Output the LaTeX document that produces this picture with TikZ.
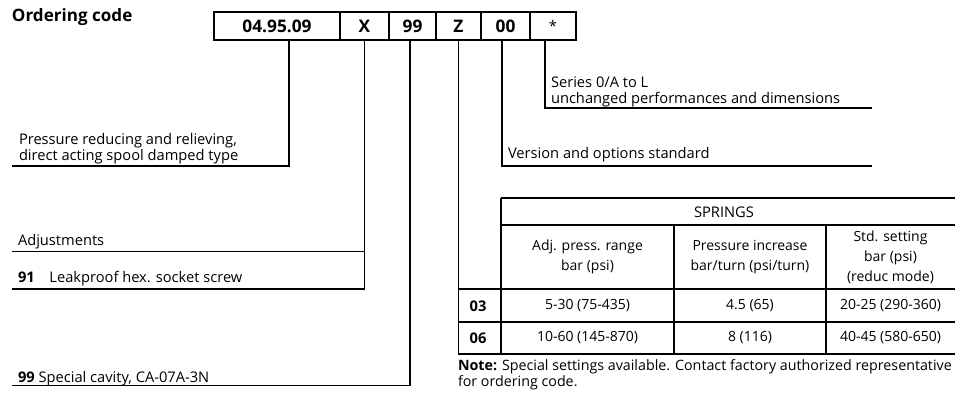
\documentclass[tikz,border=0pt]{standalone}
\usepackage{fontspec}
\setmainfont{Open Sans}
\usetikzlibrary{positioning}
\begin{document}
\begin{tikzpicture}[x=0.75pt,y=-0.75pt,every node/.style={font=\fontsize{11}{12.5}\selectfont,inner sep=0pt,outer sep=0pt},
field/.style={draw,line width=1.3pt,minimum height=21pt,font=\fontsize{13}{15}\selectfont\bfseries},
lead/.style={line width=0.9pt},
txt/.style={anchor=base west,align=left},
cell/.style={align=center,font=\fontsize{10.5}{15}\selectfont}]
\useasboundingbox (0,0) rectangle (964,402);
\node[anchor=base west,font=\fontsize{12.8}{14}\selectfont\bfseries] (title) at (12,22) {Ordering code};
\node[field,minimum width=94.5pt,anchor=north west] (f1) at (214,12) {04.95.09};
\node[field,minimum width=36.75pt,right=0pt of f1] (f2) {X};
\node[field,minimum width=35.25pt,right=0pt of f2] (f3) {99};
\node[field,minimum width=33.75pt,right=0pt of f3] (f4) {Z};
\node[field,minimum width=36.75pt,right=0pt of f4] (f5) {00};
\node[field,minimum width=34.5pt,right=0pt of f5,font=\fontsize{11}{15}\selectfont] (f6) {*};
\coordinate (e1) at (12,166);
\coordinate (e2) at (12,251.7);
\coordinate (e3) at (12,289);
\coordinate (e4) at (12,385.7);
\coordinate (e5) at (872,166);
\coordinate (e6) at (872,108);
\coordinate (bl) at (458,354);
\draw[lead] ([xshift=9pt]f1.south) |- (e1);
\draw[lead] (f2.south) |- (e3);
\draw[lead] (e2) -- (e2 -| f2.south);
\draw[lead] ([xshift=-1.9pt]f3.south) |- (e4);
\draw[lead] (f4.south) -- (f4.south |- bl);
\draw[lead] ([xshift=-2.6pt]f5.south) |- (e5);
\draw[lead] ([xshift=-6pt]f6.south) |- (e6);
\node[txt] (pr) at (19,161) {Pressure reducing and relieving,\\direct acting spool damped type};
\node[txt] (adj) at (18,246) {Adjustments};
\node[txt] (lk) at (18,283) {\textbf{91}\hspace{11pt}Leakproof hex. socket screw};
\node[txt] (sc) at (18,383) {\textbf{99} Special cavity, CA-07A-3N};
\node[txt] (ser) at (551,104) {Series 0/A to L\\unchanged performances and dimensions};
\node[txt] (ver) at (508,159) {Version and options standard};
\draw[lead] (501,198) -- (955,198) (501,225) -- (955,225) (458,289) -- (955,289)
  (458,322) -- (955,322) (bl) -- (955,354) (501,198) -- (501,354) (674,225) -- (674,354) (826,225) -- (826,354);
\node[cell,font=\fontsize{11}{15}\selectfont] (spr) at (724,212) {SPRINGS};
\node[cell] (h1) at (587.5,257) {Adj. press. range\\bar (psi)};
\node[cell] (h2) at (750,257) {Pressure increase\\bar/turn (psi/turn)};
\node[cell] (h3) at (890.5,257) {Std. setting\\bar (psi)\\(reduc mode)};
\node[cell,font=\fontsize{11}{15}\selectfont\bfseries] (r1) at (478,306) {03};
\node[cell] (r1a) at (587.5,306) {5-30 (75-435)};
\node[cell] (r1b) at (750,306) {4.5 (65)};
\node[cell] (r1c) at (890.5,306) {20-25 (290-360)};
\node[cell,font=\fontsize{11}{15}\selectfont\bfseries] (r2) at (478,338) {06};
\node[cell] (r2a) at (587.5,338) {10-60 (145-870)};
\node[cell] (r2b) at (750,338) {8 (116)};
\node[cell] (r2c) at (890.5,338) {40-45 (580-650)};
\node[txt,font=\fontsize{10.7}{12.5}\selectfont] (note) at (458,387) {\textbf{Note:} Special settings available. Contact factory authorized representative\\for ordering code.};
\end{tikzpicture}
\end{document}
